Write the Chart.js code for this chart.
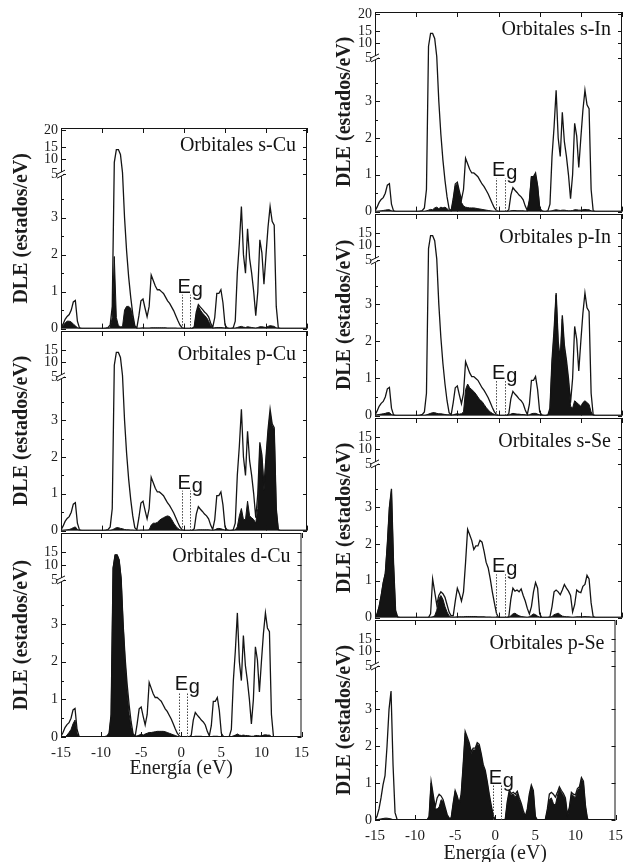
<!DOCTYPE html>
<html>
<head>
<meta charset="utf-8">
<script src="https://cdn.jsdelivr.net/npm/chart.js@4.4.1/dist/chart.umd.min.js"></script>
<style>
  html, body { margin: 0; padding: 0; background: #fff; overflow: hidden; }
  body { width: 638px; height: 862px; position: relative; }
  canvas { position: absolute; }
</style>
</head>
<body>
<script>
// energy grid (eV), shared by every curve
const energia = [
  -15, -14.75, -14.5, -14.25, -14, -13.75, -13.5, -13.25, -13, -12.75, -12.5, -12.25, -12, -11.75, -11.5, -11.25,
  -11, -10.75, -10.5, -10.25, -10, -9.75, -9.5, -9.25, -9, -8.75, -8.5, -8.25, -8, -7.75, -7.5, -7.25,
  -7, -6.75, -6.5, -6.25, -6, -5.75, -5.5, -5.25, -5, -4.75, -4.5, -4.25, -4, -3.75, -3.5, -3.25,
  -3, -2.75, -2.5, -2.25, -2, -1.75, -1.5, -1.25, -1, -0.75, -0.5, -0.25, 0, 0.25, 0.5, 0.75,
  1, 1.25, 1.5, 1.75, 2, 2.25, 2.5, 2.75, 3, 3.25, 3.5, 3.75, 4, 4.25, 4.5, 4.75,
  5, 5.25, 5.5, 5.75, 6, 6.25, 6.5, 6.75, 7, 7.25, 7.5, 7.75, 8, 8.25, 8.5, 8.75,
  9, 9.25, 9.5, 9.75, 10, 10.25, 10.5, 10.75, 11, 11.25, 11.5, 11.75, 12, 12.25, 12.5, 12.75,
  13, 13.25, 13.5, 13.75, 14, 14.25, 14.5, 14.75, 15
];

// total DOS (outline in the Cu and In panels)
const dleTotal = [
  0.02, 0.12, 0.25, 0.33, 0.38, 0.5, 0.72, 0.76, 0.2, 0.02, 0, 0, 0, 0, 0, 0,
  0, 0, 0, 0, 0, 0, 0.01, 0.03, 0.1, 0.6, 9, 14, 14, 12, 5.5, 3.0,
  2.1, 1.4, 0.85, 0.4, 0.08, 0.02, 0.35, 0.75, 0.8, 0.55, 0.32, 0.6, 1.45, 1.3, 1.15, 1.05,
  1.05, 1.0, 0.95, 0.85, 0.75, 0.68, 0.58, 0.48, 0.35, 0.22, 0.1, 0.03, 0, 0, 0, 0,
  0, 0.05, 0.45, 0.65, 0.58, 0.52, 0.45, 0.4, 0.32, 0.15, 0.03, 0.3, 0.95, 0.95, 1.05, 0.7,
  0.1, 0.02, 0, 0, 0.02, 0.2, 1.5, 2.3, 3.3, 2.0, 1.5, 2.7, 1.9, 1.5, 1.0, 0.35,
  1.0, 2.4, 2.05, 1.2, 2.0, 2.75, 3.3, 2.9, 2.8, 0.6, 0.02, 0, 0, 0, 0, 0,
  0, 0, 0, 0, 0, 0, 0, 0, 0
];

// Se total DOS (outline in the Se panels)
const dleSe = [
  0, 0.1, 0.3, 0.6, 0.95, 1.2, 2.0, 3.0, 3.5, 1.5, 0.2, 0.02, 0, 0, 0, 0,
  0, 0, 0, 0, 0, 0, 0, 0, 0, 0, 0, 0.1, 1.05, 0.7, 0.35, 0.6,
  0.7, 0.65, 0.55, 0.35, 0.15, 0.05, 0.05, 0.45, 0.8, 0.65, 0.45, 0.7, 1.5, 2.4, 2.25, 2.1,
  1.85, 1.95, 1.95, 2.1, 2.05, 1.8, 1.5, 1.35, 1.05, 0.7, 0.4, 0.12, 0, 0, 0, 0,
  0, 0.02, 0.5, 0.8, 0.72, 0.75, 0.7, 0.78, 0.6, 0.45, 0.25, 0.1, 0.3, 0.7, 0.95, 0.8,
  0.1, 0, 0, 0, 0, 0.02, 0.3, 0.7, 0.75, 0.7, 0.62, 0.75, 0.9, 0.8, 0.72, 0.6,
  0.15, 0.35, 0.75, 0.7, 0.68, 0.85, 0.9, 1.15, 1.05, 0.4, 0.03, 0, 0, 0, 0, 0,
  0, 0, 0, 0, 0, 0, 0, 0, 0
];

// partial DOS (black fill)
const dleSCu = [
  0.02, 0.08, 0.15, 0.2, 0.2, 0.18, 0.12, 0.08, 0.02, 0, 0, 0, 0, 0, 0, 0,
  0, 0, 0, 0, 0, 0, 0, 0, 0.02, 0.3, 1.95, 0.3, 0.08, 0.05, 0.05, 0.5,
  0.6, 0.6, 0.55, 0.3, 0.05, 0, 0, 0.01, 0.02, 0.01, 0.01, 0.01, 0.02, 0.02, 0.02, 0.02,
  0.02, 0.02, 0.02, 0.02, 0.01, 0.01, 0.01, 0.01, 0.01, 0, 0, 0, 0, 0, 0, 0,
  0, 0.03, 0.4, 0.6, 0.5, 0.42, 0.36, 0.3, 0.2, 0.08, 0.01, 0.02, 0.03, 0.03, 0.03, 0.02,
  0.01, 0, 0, 0, 0, 0.01, 0.03, 0.05, 0.06, 0.04, 0.03, 0.05, 0.04, 0.03, 0.02, 0.01,
  0.03, 0.05, 0.05, 0.04, 0.03, 0.06, 0.08, 0.07, 0.06, 0.02, 0, 0, 0, 0, 0, 0,
  0, 0, 0, 0, 0, 0, 0, 0, 0
];
const dlePCu = [
  0, 0, 0.01, 0.02, 0.03, 0.05, 0.08, 0.1, 0.03, 0, 0, 0, 0, 0, 0, 0,
  0, 0, 0, 0, 0, 0, 0, 0, 0, 0.02, 0.05, 0.08, 0.08, 0.06, 0.05, 0.03,
  0.02, 0.02, 0.01, 0.01, 0, 0, 0, 0.01, 0.01, 0.01, 0.01, 0.02, 0.15, 0.2, 0.2, 0.22,
  0.28, 0.32, 0.35, 0.38, 0.4, 0.38, 0.3, 0.2, 0.12, 0.06, 0.02, 0, 0, 0, 0, 0,
  0, 0, 0.01, 0.02, 0.02, 0.02, 0.02, 0.02, 0.02, 0.01, 0, 0.02, 0.05, 0.06, 0.05, 0.03,
  0.01, 0, 0, 0, 0, 0.02, 0.1, 0.4, 0.6, 0.3, 0.3, 0.8, 0.4, 0.35, 0.3, 0.2,
  0.6, 2.3, 1.95, 1.1, 1.9, 2.65, 3.2, 2.85, 2.75, 0.55, 0.02, 0, 0, 0, 0, 0,
  0, 0, 0, 0, 0, 0, 0, 0, 0
];
const dleDCu = [
  0, 0, 0, 0.05, 0.12, 0.2, 0.35, 0.45, 0.1, 0, 0, 0, 0, 0, 0, 0,
  0, 0, 0, 0, 0, 0, 0, 0.02, 0.08, 0.55, 9, 14, 14, 12, 5.5, 3.0,
  2.0, 1.2, 0.6, 0.25, 0.05, 0.02, 0.03, 0.05, 0.08, 0.05, 0.08, 0.1, 0.12, 0.12, 0.13, 0.14,
  0.15, 0.15, 0.15, 0.15, 0.14, 0.12, 0.1, 0.08, 0.06, 0.04, 0.02, 0, 0, 0, 0, 0,
  0, 0, 0.01, 0.02, 0.02, 0.02, 0.02, 0.01, 0.01, 0.01, 0, 0.01, 0.02, 0.02, 0.02, 0.01,
  0, 0, 0, 0, 0, 0.01, 0.03, 0.05, 0.08, 0.05, 0.04, 0.05, 0.04, 0.04, 0.03, 0.02,
  0.02, 0.04, 0.04, 0.03, 0.03, 0.05, 0.06, 0.05, 0.05, 0.01, 0, 0, 0, 0, 0, 0,
  0, 0, 0, 0, 0, 0, 0, 0, 0
];
const dleSIn = [
  0, 0, 0.01, 0.02, 0.03, 0.04, 0.05, 0.05, 0.02, 0, 0, 0, 0, 0, 0, 0,
  0, 0, 0, 0, 0, 0, 0, 0, 0, 0.02, 0.04, 0.06, 0.05, 0.1, 0.12, 0.08,
  0.12, 0.1, 0.12, 0.08, 0.03, 0.02, 0.3, 0.7, 0.75, 0.5, 0.25, 0.15, 0.12, 0.11, 0.1, 0.1,
  0.1, 0.09, 0.08, 0.07, 0.06, 0.05, 0.04, 0.03, 0.02, 0.01, 0, 0, 0, 0, 0, 0,
  0, 0, 0.02, 0.03, 0.03, 0.02, 0.02, 0.02, 0.02, 0.01, 0.02, 0.3, 0.95, 0.95, 1.0, 0.7,
  0.1, 0.02, 0, 0, 0, 0.01, 0.02, 0.04, 0.05, 0.04, 0.03, 0.04, 0.04, 0.03, 0.02, 0.02,
  0.03, 0.05, 0.05, 0.04, 0.04, 0.05, 0.06, 0.05, 0.05, 0.02, 0, 0, 0, 0, 0, 0,
  0, 0, 0, 0, 0, 0, 0, 0, 0
];
const dlePIn = [
  0, 0.02, 0.03, 0.04, 0.05, 0.06, 0.08, 0.08, 0.03, 0, 0, 0, 0, 0, 0, 0,
  0, 0, 0, 0, 0, 0, 0, 0, 0, 0.02, 0.04, 0.06, 0.08, 0.08, 0.06, 0.05,
  0.05, 0.04, 0.03, 0.02, 0.02, 0.01, 0.02, 0.04, 0.05, 0.04, 0.05, 0.1, 0.7, 0.85, 0.75, 0.7,
  0.65, 0.58, 0.5, 0.42, 0.38, 0.3, 0.22, 0.15, 0.1, 0.06, 0.03, 0.01, 0, 0, 0, 0,
  0, 0.01, 0.04, 0.06, 0.05, 0.04, 0.04, 0.03, 0.03, 0.02, 0.01, 0.02, 0.05, 0.06, 0.06, 0.04,
  0.02, 0, 0, 0, 0, 0.15, 1.4, 2.2, 3.25, 1.9, 1.45, 2.6, 1.8, 1.4, 0.9, 0.25,
  0.2, 0.4, 0.35, 0.3, 0.25, 0.35, 0.4, 0.35, 0.3, 0.1, 0, 0, 0, 0, 0, 0,
  0, 0, 0, 0, 0, 0, 0, 0, 0
];
const dleSSe = [
  0, 0.1, 0.3, 0.6, 0.95, 1.2, 2.0, 3.0, 3.45, 1.45, 0.15, 0, 0, 0, 0, 0,
  0, 0, 0, 0, 0, 0, 0, 0, 0, 0, 0, 0, 0.02, 0.05, 0.2, 0.5,
  0.6, 0.5, 0.3, 0.15, 0.05, 0, 0, 0.01, 0.02, 0.02, 0.02, 0.02, 0.03, 0.03, 0.03, 0.03,
  0.03, 0.03, 0.02, 0.02, 0.02, 0.02, 0.01, 0.01, 0.01, 0, 0, 0, 0, 0, 0, 0,
  0, 0, 0.05, 0.1, 0.12, 0.08, 0.05, 0.03, 0.02, 0.01, 0, 0.02, 0.06, 0.1, 0.08, 0.04,
  0.01, 0, 0, 0, 0, 0, 0.03, 0.08, 0.1, 0.12, 0.08, 0.04, 0.03, 0.02, 0.02, 0.01,
  0, 0.01, 0.02, 0.02, 0.02, 0.02, 0.03, 0.02, 0.02, 0.01, 0, 0, 0, 0, 0, 0,
  0, 0, 0, 0, 0, 0, 0, 0, 0
];
const dlePSe = [
  0, 0.01, 0.02, 0.03, 0.04, 0.05, 0.05, 0.04, 0.03, 0.01, 0, 0, 0, 0, 0, 0,
  0, 0, 0, 0, 0, 0, 0, 0, 0, 0, 0, 0.08, 1.0, 0.62, 0.3, 0.3,
  0.35, 0.55, 0.5, 0.3, 0.12, 0.04, 0.04, 0.42, 0.78, 0.62, 0.42, 0.68, 1.45, 2.35, 2.2, 2.05,
  1.8, 1.9, 1.9, 2.05, 2.0, 1.75, 1.45, 1.3, 1.0, 0.65, 0.35, 0.1, 0, 0, 0, 0,
  0, 0.02, 0.45, 0.75, 0.68, 0.7, 0.62, 0.72, 0.55, 0.4, 0.2, 0.08, 0.25, 0.65, 0.9, 0.75,
  0.08, 0, 0, 0, 0, 0.01, 0.25, 0.55, 0.6, 0.45, 0.4, 0.65, 0.85, 0.75, 0.66, 0.55,
  0.1, 0.3, 0.7, 0.66, 0.6, 0.8, 0.85, 1.1, 1.0, 0.35, 0.02, 0, 0, 0, 0, 0,
  0, 0, 0, 0, 0, 0, 0, 0, 0
];

const panelTitles = ['Orbitales s-Cu', 'Orbitales p-Cu', 'Orbitales d-Cu',
                     'Orbitales s-In', 'Orbitales p-In', 'Orbitales s-Se', 'Orbitales p-Se'];
const yTicksTop = [0, 1, 2, 3, 5, 10, 15, 20];
const yTicksRest = [0, 1, 2, 3, 5, 10, 15];
const yMinorTicks = [0.5, 1.5, 2.5, 3.5];
const xTicks = [-15, -10, -5, 0, 5, 10, 15];
const gapEdges = [-0.3, 0.75];          // band gap marks (eV)
const egLabelY = [0.97, 1.14, 1.24, 0.96, 0.99, 1.23, 0.99];

// broken y axis: values 0..4.15 linear, 5..20 squeezed into the top strip
const knotV = [0, 4.15, 5, 10, 15, 20, 22];
const knotF = [0, 0.765, 0.77, 0.843, 0.905, 0.99, 1];
function toFrac(v) {
  if (v <= knotV[0]) return 0;
  for (let i = 1; i < knotV.length; i++) {
    if (v <= knotV[i]) {
      const t = (v - knotV[i - 1]) / (knotV[i] - knotV[i - 1]);
      return knotF[i - 1] + t * (knotF[i] - knotF[i - 1]);
    }
  }
  return 1;
}
function fromFrac(f) {
  for (let i = 1; i < knotF.length; i++) {
    if (f <= knotF[i]) {
      const t = (f - knotF[i - 1]) / (knotF[i] - knotF[i - 1]);
      return knotV[i - 1] + t * (knotV[i] - knotV[i - 1]);
    }
  }
  return knotV[knotV.length - 1];
}

class BrokenScale extends Chart.LinearScale {
  getPixelForValue(value) {
    if (value === null || value === undefined || isNaN(value)) return NaN;
    return this.getPixelForDecimal(toFrac(value));
  }
  getValueForPixel(pixel) {
    return fromFrac(this.getDecimalForPixel(pixel));
  }
}
BrokenScale.id = 'broken';
BrokenScale.defaults = Chart.LinearScale.defaults;
Chart.register(BrokenScale);

Chart.defaults.font.family = '"Liberation Serif", "Times New Roman", serif';
Chart.defaults.color = '#1c1c1c';

const INK = '#141414';

// frame, inward ticks, axis break, gap marks and labels
const panelDeco = {
  id: 'panelDeco',
  afterDatasetsDraw(chart, args, opts) {
    const { ctx, chartArea: a, scales: { x, y } } = chart;
    ctx.save();
    ctx.strokeStyle = INK;
    ctx.lineWidth = 1;
    ctx.strokeRect(a.left + 0.5, a.top + 0.5, a.width - 1, a.height - 1);

    ctx.beginPath();
    xTicks.forEach(v => {
      const px = Math.round(x.getPixelForValue(v)) + 0.5;
      ctx.moveTo(px, a.bottom); ctx.lineTo(px, a.bottom - 5);
      ctx.moveTo(px, a.top); ctx.lineTo(px, a.top + 5);
    });
    opts.yTicks.forEach(v => {
      const py = Math.round(y.getPixelForValue(v)) + 0.5;
      ctx.moveTo(a.left, py); ctx.lineTo(a.left + 5, py);
      ctx.moveTo(a.right, py); ctx.lineTo(a.right - 4, py);
    });
    yMinorTicks.forEach(v => {
      const py = Math.round(y.getPixelForValue(v)) + 0.5;
      ctx.moveTo(a.left, py); ctx.lineTo(a.left + 3, py);
    });
    ctx.stroke();

    // axis break marks
    const yb = y.getPixelForValue(knotV[1]) - 1;
    ctx.fillStyle = '#fff';
    ctx.fillRect(a.left - 1, yb - 2, 3, 4);
    ctx.beginPath();
    ctx.moveTo(a.left - 4, yb); ctx.lineTo(a.left + 4, yb - 4);
    ctx.moveTo(a.left - 4, yb + 4); ctx.lineTo(a.left + 4, yb);
    ctx.stroke();

    // band gap dotted lines + E_g
    const yl = y.getPixelForValue(opts.eg);
    const y0 = y.getPixelForValue(0);
    const xl = x.getPixelForValue(gapEdges[0]);
    const xr = x.getPixelForValue(gapEdges[1]);
    ctx.strokeStyle = '#444';
    ctx.setLineDash([1.5, 1.5]);
    ctx.beginPath();
    ctx.moveTo(Math.round(xl) + 0.5, y0); ctx.lineTo(Math.round(xl) + 0.5, yl + 2);
    ctx.moveTo(Math.round(xr) + 0.5, y0); ctx.lineTo(Math.round(xr) + 0.5, yl + 2);
    ctx.stroke();
    ctx.setLineDash([]);

    ctx.fillStyle = INK;
    ctx.textBaseline = 'alphabetic';
    ctx.textAlign = 'left';
    ctx.font = '20px "Liberation Sans", Arial, sans-serif';
    ctx.fillText('E', xl - 4, yl);
    ctx.fillText('g', xr + 1.5, yl + 3);

    ctx.textAlign = 'right';
    ctx.font = '20px "Liberation Serif", "Times New Roman", serif';
    ctx.fillText(opts.title, a.right - 11, a.top + opts.titleDy);
    ctx.restore();
  }
};

const panels = [
  { col: 0, top: 128, bottom: 330, total: dleTotal, part: dleSCu, ticks: yTicksTop, last: false },
  { col: 0, top: 331, bottom: 532, total: dleTotal, part: dlePCu, ticks: yTicksRest, last: false },
  { col: 0, top: 533, bottom: 737, total: dleTotal, part: dleDCu, ticks: yTicksRest, last: true },
  { col: 1, top: 12, bottom: 213, total: dleTotal, part: dleSIn, ticks: yTicksTop, last: false },
  { col: 1, top: 214, bottom: 417, total: dleTotal, part: dlePIn, ticks: yTicksRest, last: false },
  { col: 1, top: 418, bottom: 619, total: dleSe, part: dleSSe, ticks: yTicksRest, last: false },
  { col: 1, top: 620, bottom: 820, total: dleSe, part: dlePSe, ticks: yTicksRest, last: true }
];

const pts = vals => energia.map((e, i) => ({ x: e, y: vals[i] }));

panels.forEach((p, i) => {
  const axisW = 61;
  const plotW = p.col === 0 ? 246 : 247;
  const canvasLeft = p.col === 0 ? 0 : 314;
  const padTop = 20;
  const xAxisH = p.last ? (p.col === 0 ? 44 : 46) : 10;
  const canvas = document.createElement('canvas');
  canvas.width = 316;
  canvas.height = padTop + (p.bottom - p.top) + xAxisH;
  canvas.style.left = canvasLeft + 'px';
  canvas.style.top = (p.top - padTop) + 'px';
  document.body.appendChild(canvas);

  new Chart(canvas.getContext('2d'), {
    type: 'line',
    data: {
      datasets: [
        {
          data: pts(p.total),
          borderColor: INK,
          borderWidth: 1.3,
          pointRadius: 0,
          tension: 0,
          fill: false
        },
        {
          data: pts(p.part),
          borderColor: INK,
          borderWidth: 1,
          backgroundColor: INK,
          pointRadius: 0,
          tension: 0,
          fill: 'origin'
        }
      ]
    },
    options: {
      responsive: false,
      animation: false,
      devicePixelRatio: 1,
      layout: { padding: { top: padTop, right: canvas.width - axisW - plotW, left: 0, bottom: 0 } },
      plugins: {
        legend: { display: false },
        tooltip: { enabled: false },
        panelDeco: { title: panelTitles[i], eg: egLabelY[i], yTicks: p.ticks, titleDy: p.ticks === yTicksTop ? 23 : 29 }
      },
      scales: {
        x: {
          type: 'linear',
          min: -15,
          max: 15,
          afterBuildTicks: s => { s.ticks = xTicks.map(v => ({ value: v })); },
          afterFit: s => { s.height = xAxisH; },
          grid: { display: false, drawTicks: false },
          border: { display: false },
          ticks: {
            display: p.last,
            padding: 7,
            autoSkip: false,
            maxRotation: 0,
            font: { size: 15 },
            callback: v => String(v)
          },
          title: {
            display: p.last,
            text: 'Energía (eV)',
            font: { size: 20 },
            padding: { top: 0, bottom: 0 }
          }
        },
        y: {
          type: 'broken',
          min: 0,
          max: 22,
          afterBuildTicks: s => { s.ticks = p.ticks.map(v => ({ value: v })); },
          afterFit: s => { s.width = axisW; },
          grid: { display: false, drawTicks: false },
          border: { display: false },
          ticks: {
            padding: 3,
            autoSkip: false,
            font: { size: 14 },
            callback: v => String(v)
          },
          title: {
            display: true,
            text: 'DLE (estados/eV)',
            font: { size: 20, weight: 'bold' },
            padding: { top: p.col === 0 ? 10 : 19, bottom: 0 }
          }
        }
      }
    },
    plugins: [panelDeco]
  });
});
</script>
</body>
</html>
